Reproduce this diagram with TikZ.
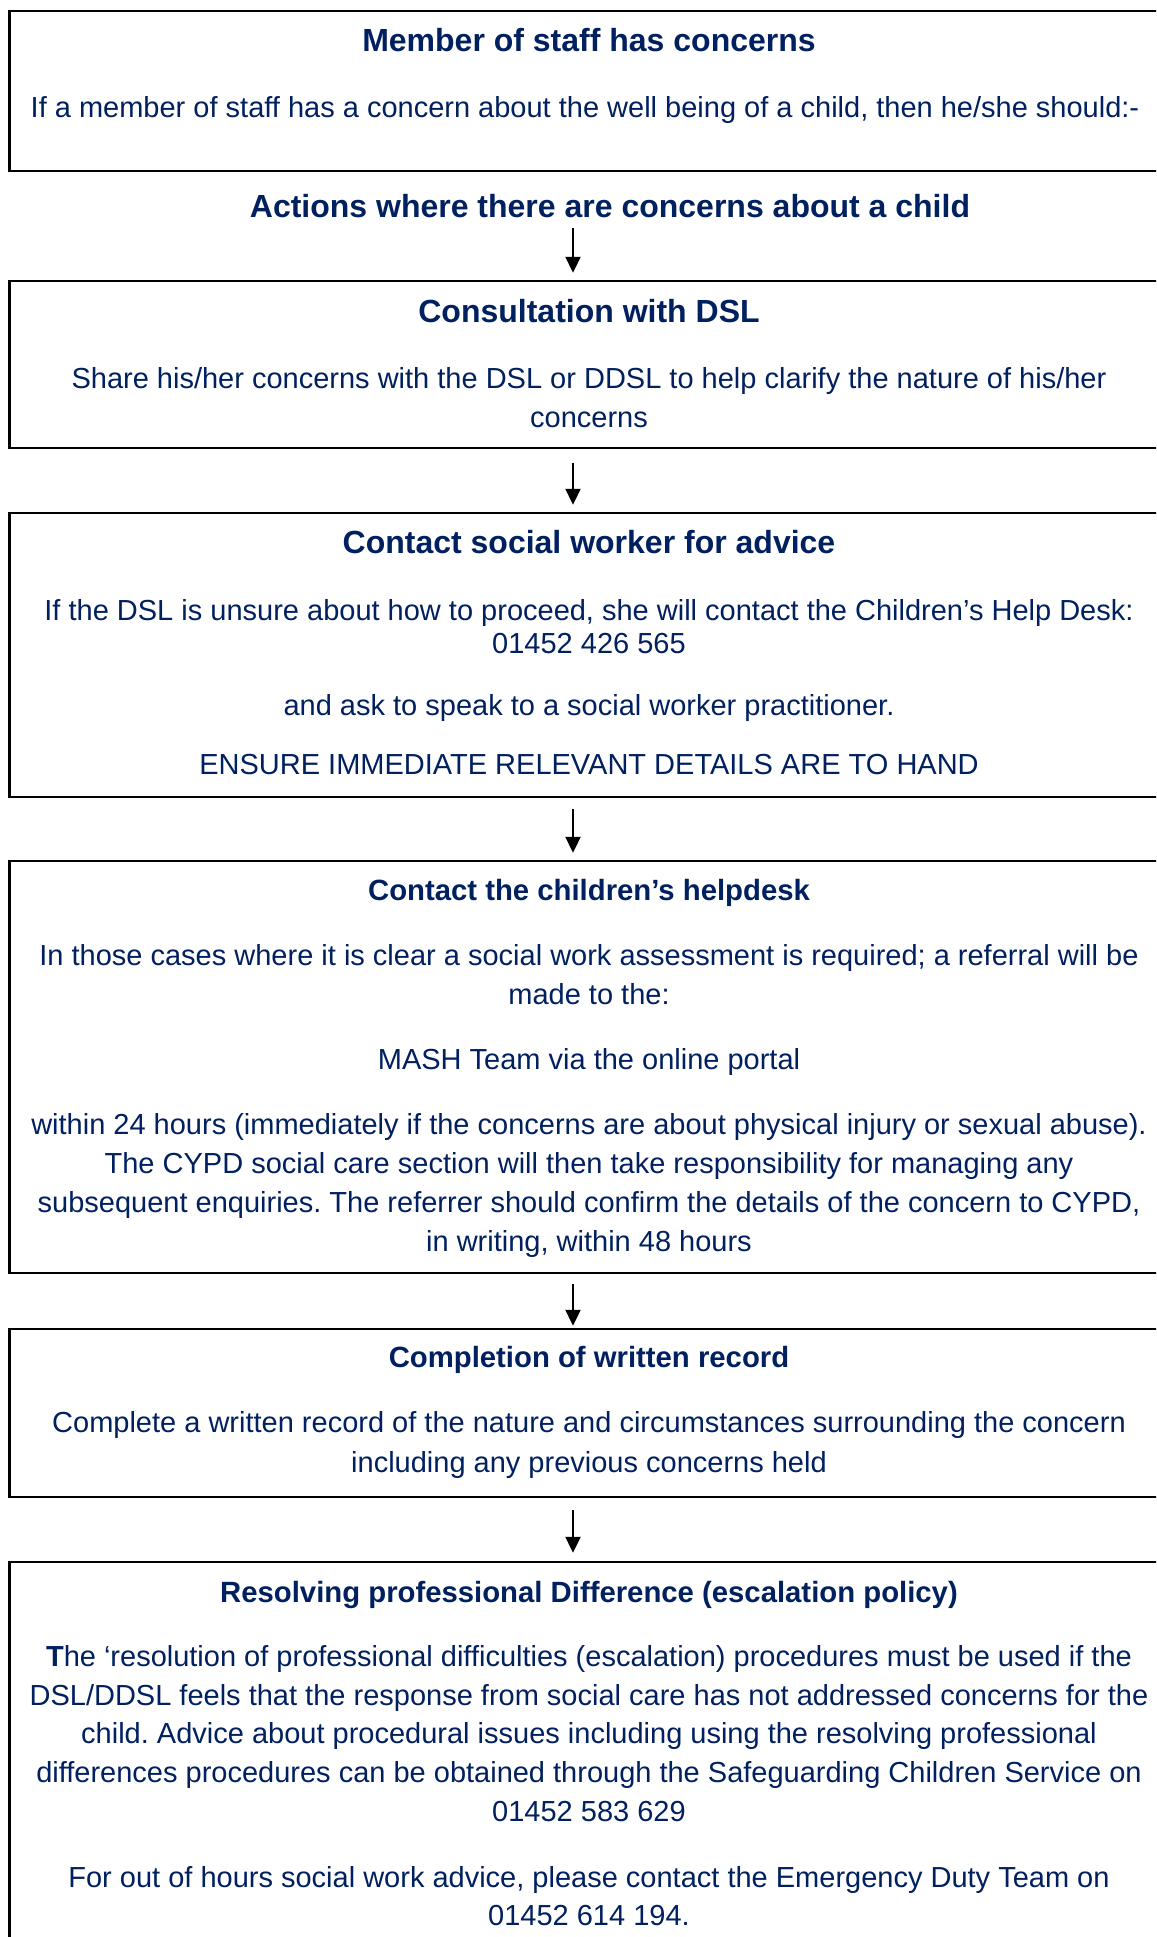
\documentclass[tikz,border=0pt]{standalone}
\usepackage{fontspec}
\setmainfont{Liberation Sans}
\usetikzlibrary{arrows.meta}
\definecolor{navy}{RGB}{0,32,96}
\frenchspacing
\begin{document}
\frenchspacing
\begin{tikzpicture}[x=1pt,y=-1pt,
  box/.style={draw=black, line width=2.5pt, minimum width=1159pt, inner sep=0pt},
  body/.style={text=navy, font=\fontsize{29}{39}\selectfont, anchor=base, inner sep=0pt},
  headA/.style={text=navy, font=\fontsize{32}{38}\selectfont\bfseries, anchor=base, inner sep=0pt},
  headB/.style={text=navy, font=\fontsize{29.3}{36}\selectfont\bfseries, anchor=base, inner sep=0pt},
  arr/.style={draw=black, line width=2.3pt, -{Triangle[length=16pt,width=15pt]}}]
\useasboundingbox (0,0) rectangle (1156,1937);
\fill[white] (0,0) rectangle (1156,1937);
\clip (0,0) rectangle (1156,1937);
\coordinate (ax) at (573,0);
% boxes
\node[box, minimum height=160pt] (box1) at (589,91) {};
\node[box, minimum height=167pt] (box2) at (589,364.5) {};
\node[box, minimum height=284pt] (box3) at (589,655) {};
\node[box, minimum height=412pt] (box4) at (589,1067) {};
\node[box, minimum height=168pt] (box5) at (589,1413) {};
\node[box, minimum height=398pt] (box6) at (589,1761) {};
% box 1
\node[headA] (t1) at (589,52) {Member of staff has concerns};
\node[body] (b1) at (585,118) {If a member of staff has a concern about the well being of a child, then he/she should:-};
\node[headA] (act) at (610,218) {Actions where there are concerns about a child};
% box 2
\node[headA] (t2) at (589,322) {Consultation with DSL};
\node[body] (b2a) at (589,388) {Share his/her concerns with the DSL or DDSL to help clarify the nature of his/her};
\node[body] (b2b) at (589,427) {concerns};
% box 3
\node[headA] (t3) at (589,553) {Contact social worker for advice};
\node[body] (b3a) at (589,620) {If the DSL is unsure about how to proceed, she will contact the Children’s Help Desk:};
\node[body] (b3b) at (589,653) {01452 426 565};
\node[body] (b3c) at (589,715) {and ask to speak to a social worker practitioner.};
\node[body] (b3d) at (589,774) {ENSURE IMMEDIATE RELEVANT DETAILS ARE TO HAND};
% box 4
\node[headB] (t4) at (589,900) {Contact the children’s helpdesk};
\node[body] (b4a) at (589,965) {In those cases where it is clear a social work assessment is required; a referral will be};
\node[body] (b4b) at (589,1004) {made to the:};
\node[body] (b4c) at (589,1069) {MASH Team via the online portal};
\node[body] (b4d) at (589,1134) {within 24 hours (immediately if the concerns are about physical injury or sexual abuse).};
\node[body] (b4e) at (589,1173) {The CYPD social care section will then take responsibility for managing any};
\node[body] (b4f) at (589,1212) {subsequent enquiries. The referrer should confirm the details of the concern to CYPD,};
\node[body] (b4g) at (589,1251) {in writing, within 48 hours};
% box 5
\node[headB] (t5) at (589,1367) {Completion of written record};
\node[body] (b5a) at (589,1432) {Complete a written record of the nature and circumstances surrounding the concern};
\node[body] (b5b) at (589,1472) {including any previous concerns held};
% box 6
\node[headB] (t6) at (589,1602) {Resolving professional Difference (escalation policy)};
\node[body] (b6a) at (589,1666) {{\bfseries T}he ‘resolution of professional difficulties (escalation) procedures must be used if the};
\node[body] (b6b) at (589,1705) {DSL/DDSL feels that the response from social care has not addressed concerns for the};
\node[body] (b6c) at (589,1743) {child. Advice about procedural issues including using the resolving professional};
\node[body] (b6d) at (589,1782) {differences procedures can be obtained through the Safeguarding Children Service on};
\node[body] (b6e) at (589,1821) {01452 583 629};
\node[body] (b6f) at (589,1887) {For out of hours social work advice, please contact the Emergency Duty Team on};
\node[body] (b6g) at (589,1925) {01452 614 194.};
% arrows
\draw[arr, shorten <=10pt, shorten >=7pt] (act.base -| ax) -- (box2.north -| ax);
\draw[arr, shorten <=14pt, shorten >=7pt] (box2.south -| ax) -- (box3.north -| ax);
\draw[arr, shorten <=11pt, shorten >=7pt] (box3.south -| ax) -- (box4.north -| ax);
\draw[arr, shorten <=10pt, shorten >=2pt] (box4.south -| ax) -- (box5.north -| ax);
\draw[arr, shorten <=12pt, shorten >=8pt] (box5.south -| ax) -- (box6.north -| ax);
\end{tikzpicture}
\end{document}
